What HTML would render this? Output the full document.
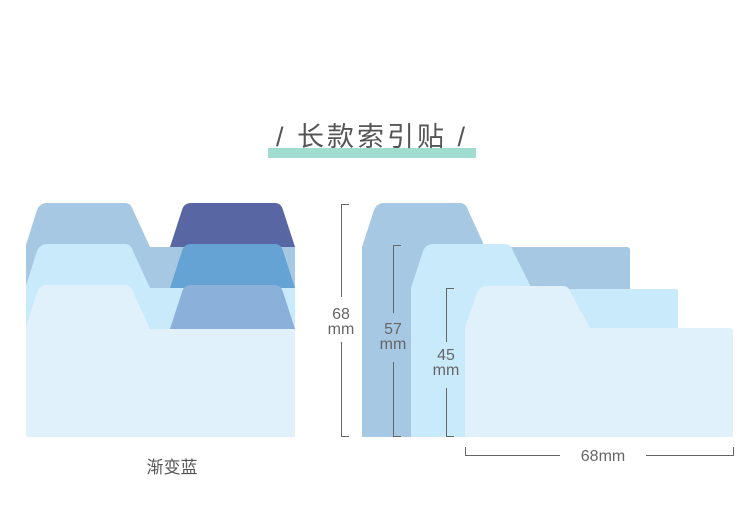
<!DOCTYPE html>
<html><head><meta charset="utf-8"><style>
html,body{margin:0;padding:0;background:#fff;}
svg{display:block;}
</style></head><body>
<svg width="750" height="507" viewBox="0 0 750 507" xmlns="http://www.w3.org/2000/svg" font-family="Liberation Sans, Noto Sans CJK SC, sans-serif">
<rect x="268" y="148" width="208" height="10" fill="#a0dccf"/>
<text x="372" y="146" text-anchor="middle" font-size="27" fill="#555" font-family="Liberation Sans, Noto Sans CJK SC, sans-serif" letter-spacing="3">/ 长款索引贴 /</text>

<!-- left group -->
<path d="M26 437 V245 L37 210 Q40 203 47 203 H125 Q131 203 133 210 L150 247 H295 V437 Z" fill="#a7c8e2"/>
<path d="M170 247 L182 210 Q184 203 191 203 H275 Q281 203 283 210 L295 247 Z" fill="#5867a3"/>
<path d="M26 437 V286 L37 251 Q40 244 47 244 H125 Q131 244 133 251 L150 288 H295 V437 Z" fill="#c8eafb"/>
<path d="M170 288 L182 251 Q184 244 191 244 H275 Q281 244 283 251 L295 288 Z" fill="#64a3d4"/>
<path d="M26 437 V327 L37 292 Q40 285 47 285 H125 Q131 285 133 292 L150 329 H295 V437 Z" fill="#e0f1fc"/>
<path d="M170 329 L182 292 Q184 285 191 285 H275 Q281 285 283 292 L295 329 Z" fill="#8bb0da"/>
<text x="172" y="473" text-anchor="middle" font-size="17" fill="#555">渐变蓝</text>

<!-- right group -->
<path d="M362 437 V247 L374 210 Q377 203 384 203 H460 Q466 203 468 210 L485 247 H627 Q630 247 630 250 V437 Z" fill="#a7c8e2"/>
<path d="M411 437 V288 L423 251 Q426 244 433 244 H505 Q511 244 513 251 L532 289 H675 Q678 289 678 292 V437 Z" fill="#c8eafb"/>
<path d="M465 437 V327 L477 293 Q480 286 487 286 H563 Q569 286 571 293 L590 328 H730 Q733 328 733 331 V437 Z" fill="#e0f1fc"/>

<g stroke="#666" stroke-width="1" fill="none">
<path d="M349 204.5 H341.5 V297 M341.5 342 V436.5 H349"/>
<path d="M401 245.5 H393.5 V313 M393.5 362 V436.5 H401"/>
<path d="M454 288.5 H446.5 V342 M446.5 388 V436.5 H454"/>
<path d="M465.5 447 V455.5 H560 M646 455.5 H733.5 V447"/>
</g>
<g fill="#666" font-size="16" text-anchor="middle">
<text x="341" y="319">68</text><text x="341" y="334">mm</text>
<text x="393" y="334">57</text><text x="393" y="349">mm</text>
<text x="446" y="360">45</text><text x="446" y="375">mm</text>
<text x="603" y="461">68mm</text>
</g>
</svg>
</body></html>
